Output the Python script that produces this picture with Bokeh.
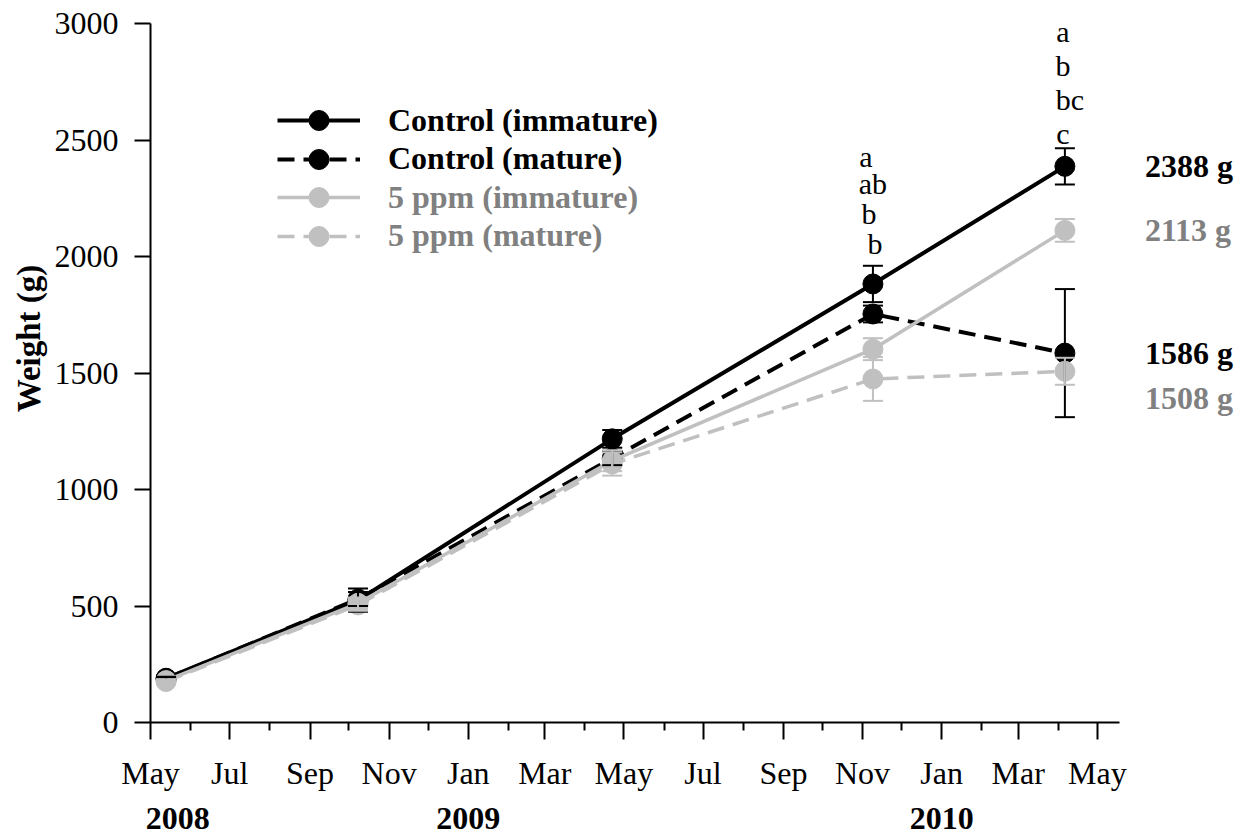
import math
import pandas as pd
from bokeh.plotting import figure
from bokeh.models import (ColumnDataSource, Whisker, TeeHead, Legend, LegendItem,
                          Label, FixedTicker, Range1d, LinearAxis)
from bokeh.embed import file_html
from bokeh.resources import INLINE

# ---- data -------------------------------------------------------------
sample_dates = ["2008-05-13", "2008-10-08", "2009-04-22", "2009-11-09", "2010-04-06"]

control_immature = [190, 525, 1218, 1883, 2388]
control_immature_err = [6, 50, 38, 78, 78]
control_mature = [188, 530, 1135, 1754, 1586]
control_mature_err = [6, 30, 30, 36, 275]
ppm5_immature = [180, 512, 1124, 1603, 2113]
ppm5_immature_err = [6, 25, 45, 47, 49]
ppm5_mature = [176, 505, 1110, 1475, 1508]
ppm5_mature_err = [6, 25, 50, 94, 58]

series_names = ["Control (immature)", "Control (mature)", "5 ppm (immature)", "5 ppm (mature)"]

major_tick_dates = ["2008-05-01", "2008-07-01", "2008-09-01", "2008-11-01", "2009-01-01",
                    "2009-03-01", "2009-05-01", "2009-07-01", "2009-09-01", "2009-11-01",
                    "2010-01-01", "2010-03-01", "2010-05-01"]
major_tick_labels = ["May", "Jul", "Sep", "Nov", "Jan", "Mar", "May",
                     "Jul", "Sep", "Nov", "Jan", "Mar", "May"]
minor_tick_dates = ["2008-06-01", "2008-08-01", "2008-10-01", "2008-12-01", "2009-02-01",
                    "2009-04-01", "2009-06-01", "2009-08-01", "2009-10-01", "2009-12-01",
                    "2010-02-01", "2010-04-01"]
year_labels = ["2008", "2009", "2010"]
year_label_dates = ["2008-05-22", "2009-01-01", "2010-01-01"]

letters_nov09 = ["a", "ab", "b", "b"]
letters_apr10 = ["a", "b", "bc", "c"]

y_ticks = [0, 500, 1000, 1500, 2000, 2500, 3000]
y_title = "Weight (g)"


def ms(d):
    return int(pd.Timestamp(d).value // 1_000_000)


DAY = 86_400_000
xs = [ms(d) for d in sample_dates]

# ---- layout -----------------------------------------------------------
W, H = 1250, 839
LEFT, BOTTOM = 150, 117
FRAME_W = W - LEFT
FRAME_H = H - BOTTOM
AXIS_TOP_PX = 23.3                      # where 3000 g sits
Y_MAX = 3000
G_PER_PX = Y_MAX / (FRAME_H - AXIS_TOP_PX)
PX_PER_DAY = 1.297


def y_at_px(py):
    """data value sitting at canvas row py"""
    return (FRAME_H - py) * G_PER_PX


SERIF = "Liberation Serif"
BLACK = "#000000"
GRAY = "#c0c0c0"
GRAY_TEXT = "#808080"

x_start = ms("2008-05-01")
x_axis_end = x_start + 747 * DAY
x_end = x_start + int(FRAME_W / PX_PER_DAY * DAY)

p = figure(width=W, height=H, x_range=Range1d(x_start, x_end),
           y_range=Range1d(0, FRAME_H * G_PER_PX),
           output_backend="svg", toolbar_location=None,
           min_border_left=LEFT, min_border_right=0,
           min_border_top=0, min_border_bottom=BOTTOM)
p.outline_line_color = None
p.xgrid.visible = False
p.ygrid.visible = False
p.background_fill_color = "white"
p.border_fill_color = "white"

# x axis: month ticks, odd months labelled
xax = p.xaxis[0]
xax.bounds = (x_start, x_axis_end)
xax.ticker = FixedTicker(ticks=[ms(d) for d in major_tick_dates],
                         minor_ticks=[ms(d) for d in minor_tick_dates])
xax.major_label_overrides = {ms(d): t for d, t in zip(major_tick_dates, major_tick_labels)}
xax.axis_line_width = 2
xax.major_tick_line_width = 2
xax.minor_tick_line_width = 2
xax.major_tick_out = 17
xax.major_tick_in = 0
xax.minor_tick_out = 8
xax.minor_tick_in = 0
xax.major_label_standoff = 15
xax.major_label_text_font = SERIF
xax.major_label_text_font_size = "32px"
xax.major_label_text_color = BLACK

# year row beneath the months
year_axis = LinearAxis(ticker=FixedTicker(ticks=[ms(d) for d in year_label_dates], minor_ticks=[]),
                       major_label_overrides={ms(d): t for d, t in zip(year_label_dates, year_labels)},
                       axis_line_color=None, major_tick_line_color=None,
                       major_tick_out=0, major_tick_in=0, major_label_standoff=14,
                       major_label_text_font=SERIF, major_label_text_font_style="bold",
                       major_label_text_font_size="32px", major_label_text_color=BLACK)
p.add_layout(year_axis, "below")

# y axis
yax = p.yaxis[0]
yax.bounds = (0, Y_MAX)
yax.ticker = FixedTicker(ticks=y_ticks, minor_ticks=[])
yax.axis_line_width = 2
yax.major_tick_line_width = 2
yax.major_tick_out = 16
yax.major_tick_in = 0
yax.major_label_standoff = 16
yax.major_label_text_font = SERIF
yax.major_label_text_font_size = "32px"
yax.major_label_text_color = BLACK

# y title, set a little above the middle of the axis
title_pos = int(round(y_at_px(338)))
title_axis = LinearAxis(ticker=FixedTicker(ticks=[title_pos], minor_ticks=[]),
                        major_label_overrides={title_pos: y_title},
                        major_label_orientation="vertical",
                        axis_line_color=None, major_tick_line_color=None,
                        major_tick_out=0, major_tick_in=0, major_label_standoff=4,
                        major_label_text_font=SERIF, major_label_text_font_style="bold",
                        major_label_text_font_size="33px", major_label_text_color=BLACK)
p.add_layout(title_axis, "left")

# ---- series -----------------------------------------------------------
series = [
    (control_immature, control_immature_err, BLACK, "solid", 4),
    (control_mature, control_mature_err, BLACK, "17 9", 4),
    (ppm5_immature, ppm5_immature_err, GRAY, "solid", 3.5),
    (ppm5_mature, ppm5_mature_err, GRAY, "17 9", 3.5),
]

legend_items = []
for name, (vals, errs, color, dash, lw) in zip(series_names, series):
    src = ColumnDataSource(dict(x=xs, y=vals,
                                lower=[v - e for v, e in zip(vals, errs)],
                                upper=[v + e for v, e in zip(vals, errs)]))
    w = Whisker(base="x", lower="lower", upper="upper", source=src,
                line_color=color, line_width=2, level="glyph",
                lower_head=TeeHead(size=20, line_color=color, line_width=2),
                upper_head=TeeHead(size=20, line_color=color, line_width=2))
    p.add_layout(w)
    lr = p.line("x", "y", source=src, line_color=color, line_width=lw, line_dash=dash)
    sr = p.scatter("x", "y", source=src, size=20, fill_color=color, line_color=color)
    legend_items.append(LegendItem(label=name, renderers=[lr, sr]))

# one legend box per row so rows can sit closer than the glyph box height
GLYPH_H = 50
row_centres = [120, 158.5, 197, 235.5]
row_colours = [BLACK, BLACK, GRAY_TEXT, GRAY_TEXT]
for item, centre, colour in zip(legend_items, row_centres, row_colours):
    leg = Legend(items=[item], location=(277 - LEFT, FRAME_H - (centre + GLYPH_H / 2)),
                 glyph_width=83, glyph_height=GLYPH_H, label_height=GLYPH_H,
                 label_standoff=28, padding=0, margin=0,
                 label_text_font=SERIF, label_text_font_style="bold",
                 label_text_font_size="32px", label_text_color=colour,
                 border_line_color=None, background_fill_alpha=0)
    p.add_layout(leg)

# ---- significance letters --------------------------------------------
top4 = control_immature[3] + control_immature_err[3]
for txt, up, dx in zip(letters_nov09, [109, 82, 52, 22], [-7, 0, -4, 2]):
    p.add_layout(Label(x=xs[3], y=top4 + up * G_PER_PX, x_offset=dx, text=txt,
                       text_font=SERIF, text_font_size="30px", text_align="center",
                       text_baseline="middle", text_color=BLACK))
top5 = control_immature[4] + control_immature_err[4]
for txt, up, dx in zip(letters_apr10, [117, 83, 49, 15], [-2, -2, 5, -2]):
    p.add_layout(Label(x=xs[4], y=top5 + up * G_PER_PX, x_offset=dx, text=txt,
                       text_font=SERIF, text_font_size="30px", text_align="center",
                       text_baseline="middle", text_color=BLACK))

# ---- end-of-study weights --------------------------------------------
final_vals = [control_immature[-1], ppm5_immature[-1], control_mature[-1], ppm5_mature[-1]]
final_cols = [BLACK, GRAY_TEXT, BLACK, GRAY_TEXT]
final_shift = [0, 0, 0, -27]
for v, c, s in zip(final_vals, final_cols, final_shift):
    p.add_layout(Label(x=xs[-1], y=v + s * G_PER_PX, x_offset=80, text=f"{v} g",
                       text_font=SERIF, text_font_style="bold", text_font_size="32px",
                       text_align="left", text_baseline="middle", text_color=c))

open("out.html", "w").write(file_html(p, INLINE))
